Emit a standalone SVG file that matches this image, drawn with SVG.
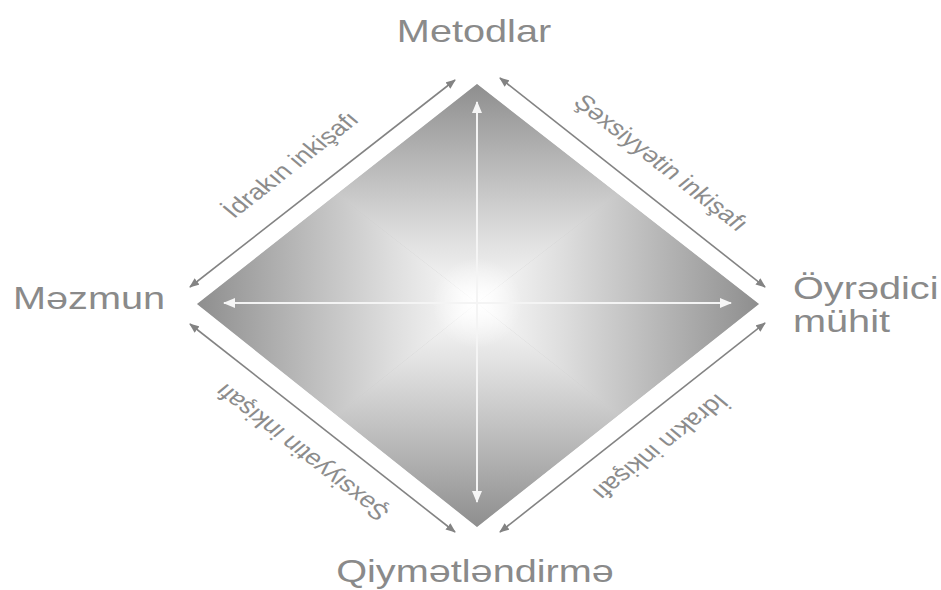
<svg xmlns="http://www.w3.org/2000/svg" width="941" height="590" viewBox="0 0 941 590">
<style>
.main{font-family:"Liberation Sans",Arial,sans-serif;font-size:32px;fill:#8a8a8a}
.lbl{font-family:"Liberation Sans",Arial,sans-serif;font-size:22px;fill:#8c8c8c;text-anchor:middle}
.outer{stroke:#838383;stroke-width:1.6;fill:none}
.inner{stroke:#f4f4f4;stroke-width:2;fill:none}
</style>
<defs>
<linearGradient id="gt" gradientUnits="userSpaceOnUse" x1="477" y1="303" x2="477" y2="84">
<stop offset="0" stop-color="#ffffff"/><stop offset="0.1" stop-color="#f2f2f2"/><stop offset="0.3" stop-color="#dedede"/><stop offset="0.55" stop-color="#c2c2c2"/><stop offset="1" stop-color="#8e8e8e"/>
</linearGradient>
<linearGradient id="gb" href="#gt" x1="477" y1="303" x2="477" y2="527"/>
<linearGradient id="gl" href="#gt" x1="477" y1="303" x2="197" y2="303"/>
<linearGradient id="gr" href="#gt" x1="477" y1="303" x2="759" y2="303"/>
<radialGradient id="glow" cx="477" cy="303" r="45" gradientUnits="userSpaceOnUse">
<stop offset="0" stop-color="#ffffff" stop-opacity="0.9"/><stop offset="1" stop-color="#ffffff" stop-opacity="0"/>
</radialGradient>
<clipPath id="dc"><polygon points="477,84 759,304 477,527 197,304"/></clipPath>
<marker id="ao" viewBox="0 0 10 8" refX="9" refY="4" markerWidth="10" markerHeight="8" markerUnits="userSpaceOnUse" orient="auto-start-reverse">
<path d="M0,0 L10,4 L0,8 Z" fill="#838383"/>
</marker>
<marker id="ai" viewBox="0 0 12 10" refX="11" refY="5" markerWidth="12" markerHeight="10" markerUnits="userSpaceOnUse" orient="auto-start-reverse">
<path d="M0,0 L12,5 L0,10 Z" fill="#f6f6f6"/>
</marker>
</defs>
<g id="diamond" clip-path="url(#dc)">
<polygon points="477,84 759,304 477,527 197,304" fill="#c8c8c8"/>
<polygon points="477,303 190,80 766,80" fill="url(#gt)"/>
<polygon points="477,303 190,532 766,532" fill="url(#gb)"/>
<polygon points="477,303 190,80 190,532" fill="url(#gl)"/>
<polygon points="477,303 766,80 766,532" fill="url(#gr)"/>
<circle cx="477" cy="303" r="45" fill="url(#glow)"/>
</g>
<g id="connectors">
<line class="inner" x1="477" y1="102" x2="477" y2="502" marker-start="url(#ai)" marker-end="url(#ai)"/>
<line class="inner" x1="224" y1="303" x2="731" y2="303" marker-start="url(#ai)" marker-end="url(#ai)"/>
<line class="outer" x1="190" y1="287" x2="455" y2="80" marker-start="url(#ao)" marker-end="url(#ao)"/>
<line class="outer" x1="500" y1="78" x2="765" y2="287" marker-start="url(#ao)" marker-end="url(#ao)"/>
<line class="outer" x1="190" y1="324" x2="455" y2="532" marker-start="url(#ao)" marker-end="url(#ao)"/>
<line class="outer" x1="500" y1="532" x2="765" y2="323" marker-start="url(#ao)" marker-end="url(#ao)"/>
</g>
<g id="labels">
<text class="lbl" transform="translate(291,165) scale(1.24,1) rotate(-44)" y="7">İdrakın inkişafı</text>
<text class="lbl" transform="translate(661,163) scale(1.24,1) rotate(44)" y="7">Şəxsiyyətin inkişafı</text>
<text class="lbl" transform="translate(302,452) scale(1.24,1) rotate(224)" y="7">Şəxsiyyətin inkişafı</text>
<text class="lbl" transform="translate(660,447) scale(1.24,1) rotate(136)" y="7">İdrakın inkişafı</text>
</g>
<g id="node-metodlar">
<text class="main" transform="translate(474,42) scale(1.24,1)" text-anchor="middle">Metodlar</text>
</g>
<g id="node-mezmun">
<text class="main" transform="translate(13,309) scale(1.24,1)">Məzmun</text>
</g>
<g id="node-oyredici">
<text class="main" transform="translate(793,299) scale(1.24,1)">Öyrədici</text>
<text class="main" transform="translate(793,332) scale(1.24,1)">mühit</text>
</g>
<g id="node-qiymetlendirme">
<text class="main" transform="translate(475,582) scale(1.24,1)" text-anchor="middle">Qiymətləndirmə</text>
</g>
</svg>
